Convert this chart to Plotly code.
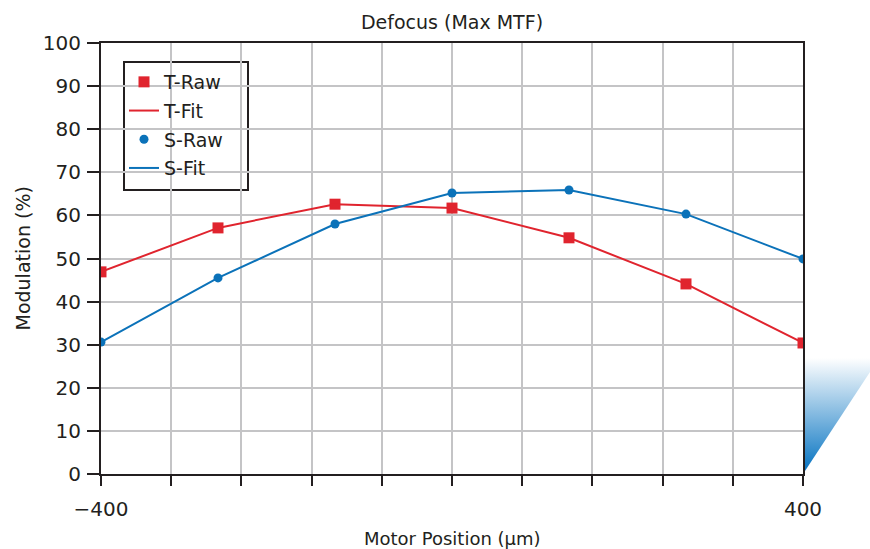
import plotly.graph_objects as go
import urllib.parse

positions = [-400, -266.67, -133.33, 0, 133.33, 266.67, 400]
t_values = [46.9, 57.1, 62.6, 61.7, 54.8, 44.1, 30.4]
s_values = [30.6, 45.5, 58.0, 65.2, 65.9, 60.3, 49.9]
x_tickvals = [-400, -320, -240, -160, -80, 0, 80, 160, 240, 320, 400]
x_ticktext = ["\u2212400", "", "", "", "", "", "", "", "", "", "400"]
y_tickvals = list(range(0, 101, 10))

RED = "#e0242e"
BLUE = "#0b72b9"
DARK = "#231f20"
FONT = "DejaVu Sans"

fig = go.Figure()
fig.add_trace(go.Scatter(x=positions, y=t_values, mode="markers", name="T-Raw", legendgroup="a",
                         marker=dict(symbol="square", size=11, color=RED)))
fig.add_trace(go.Scatter(x=positions, y=t_values, mode="lines", name="T-Fit", legendgroup="b",
                         line=dict(color=RED, width=2)))
fig.add_trace(go.Scatter(x=positions, y=s_values, mode="markers", name="S-Raw", legendgroup="c",
                         marker=dict(symbol="circle", size=9, color=BLUE)))
fig.add_trace(go.Scatter(x=positions, y=s_values, mode="lines", name="S-Fit", legendgroup="d",
                         line=dict(color=BLUE, width=2)))

svg = ('<svg xmlns="http://www.w3.org/2000/svg" width="67" height="116" viewBox="0 0 67 116">'
       '<defs><linearGradient id="g" x1="0" y1="1" x2="0" y2="0">'
       '<stop offset="0" stop-color="#0070c0"/><stop offset="1" stop-color="#ffffff"/>'
       '</linearGradient></defs>'
       '<polygon points="0,116 0,0 67,0 67,14" fill="url(#g)"/></svg>')
src = "data:image/svg+xml;charset=utf-8," + urllib.parse.quote(svg)

W, H = 870, 549
ml, mr, mt, mb = 101, 67, 43, 75
pw = W - ml - mr
ph = H - mt - mb

def px_x(p):
    return (p - ml) / pw

def px_y(p):
    return (H - mb - p) / ph

fig.add_layout_image(dict(source=src, xref="paper", yref="paper",
                          x=1.0, y=px_y(358), sizex=67 / pw, sizey=116 / ph,
                          xanchor="left", yanchor="top", sizing="stretch", layer="below"))

# legend frame
fig.add_shape(type="rect", xref="paper", yref="paper",
              x0=px_x(124), x1=px_x(248), y0=px_y(190), y1=px_y(62),
              fillcolor="white", line=dict(color=DARK, width=2), layer="between")

fig.add_annotation(text="Motor Position (\u00b5m)", xref="paper", yref="paper",
                   x=0.5, y=px_y(538), xanchor="center", yanchor="middle",
                   showarrow=False, font=dict(size=18, family=FONT, color=DARK))
fig.add_annotation(text="Modulation (%)", xref="paper", yref="paper",
                   x=px_x(22), y=0.5, xanchor="center", yanchor="middle", textangle=-90,
                   showarrow=False, font=dict(size=19, family=FONT, color=DARK))

fig.update_layout(
    width=W, height=H,
    margin=dict(l=ml, r=mr, t=mt, b=mb, autoexpand=False),
    plot_bgcolor="white", paper_bgcolor="white",
    font=dict(family=FONT, color=DARK, size=17),
    title=dict(text="Defocus (Max MTF)", x=0.5, xref="paper", y=1 - 22 / H, yanchor="middle",
               font=dict(size=19, family=FONT, color=DARK)),
    showlegend=True,
    legend=dict(x=px_x(124), y=px_y(63), xanchor="left", yanchor="top",
                bgcolor="rgba(0,0,0,0)", borderwidth=0,
                font=dict(size=19, family=FONT, color=DARK),
                tracegroupgap=1, itemwidth=30),
    xaxis=dict(range=[-400, 400], tickvals=x_tickvals, ticktext=x_ticktext,
               showgrid=True, gridcolor="#c4c4c6", gridwidth=2, automargin=False,
               showline=True, linecolor=DARK, linewidth=2, mirror=True,
               ticks="outside", ticklen=10, tickwidth=2, tickcolor=DARK,
               zeroline=False, tickfont=dict(size=20), ticklabelstandoff=6),
    yaxis=dict(range=[0, 100], tickvals=y_tickvals,
               showgrid=True, gridcolor="#c4c4c6", gridwidth=2, automargin=False,
               showline=True, linecolor=DARK, linewidth=2, mirror=True,
               ticks="outside", ticklen=12, tickwidth=2, tickcolor=DARK,
               zeroline=False, tickfont=dict(size=20), ticklabelstandoff=2),
)

fig.write_html("out.html", config={"displayModeBar": False},
               post_script="document.body.style.margin='0';")
